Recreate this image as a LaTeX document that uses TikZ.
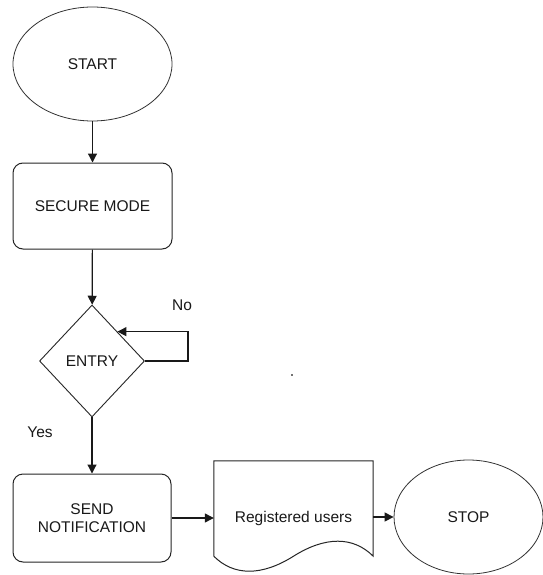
\documentclass[tikz,border=0pt]{standalone}
\usepackage{fontspec}
\setmainfont{Liberation Sans}
\usetikzlibrary{shapes.geometric,arrows.meta,calc}
\begin{document}
\begin{tikzpicture}[x=1pt,y=-1pt,
  every node/.style={font=\fontsize{15.5}{17.5}\selectfont, text=black!90},
  term/.style={ellipse, draw=black!80, line width=0.8pt, inner sep=0pt},
  proc/.style={rectangle, rounded corners=10pt, draw=black!85, line width=1pt, inner sep=0pt, align=center},
  decide/.style={diamond, draw=black!85, line width=0.9pt, inner sep=0pt, aspect=0.94},
  conn/.style={draw=black!90, line width=1.2pt, -{Triangle[length=9pt,width=9pt]}},
  lbl/.style={inner sep=0pt}
]
\useasboundingbox (0,0) rectangle (542,575);
\fill[white] (0,0) rectangle (542,575);

\node[term, minimum width=159pt, minimum height=114pt] (start) at (92.5,64) {START};
\node[proc, minimum width=159pt, minimum height=86pt] (secure) at (92.5,206) {SECURE MODE};
\node[decide, minimum width=105pt, minimum height=112pt] (entry) at (92,361) {ENTRY};
\node[proc, minimum width=158pt, minimum height=88pt] (send) at (92,518) {SEND\\NOTIFICATION};
\node[rectangle, draw=none, minimum width=159pt, minimum height=95pt, inner sep=0pt] (doc) at (293.5,508.5) {};
\node[lbl] (doctext) at (293.5,518) {Registered users};
\node[term, minimum width=149pt, minimum height=114pt] (stop) at (468.5,517) {STOP};

% document shape
\draw[draw=black!85, line width=1pt]
  (doc.south west) -- (doc.north west) -- (doc.north east) -- (doc.south east)
  .. controls ($(doc.south east)+(-20,-20)$) and ($(doc.south east)+(-48,-20)$) .. (doc.south)
  .. controls ($(doc.south west)+(48,20)$) and ($(doc.south west)+(20,20)$) .. (doc.south west);

\node[lbl] (no) at (182,305) {No};
\node[lbl] (yes) at (40,432) {Yes};

\coordinate (loopin) at ($(entry.north)!0.48!(entry.east)$);
\coordinate (loopcorner) at (188,361);

\draw[conn] (start) -- (secure);
\draw[conn] (secure) -- (entry);
\draw[conn] (entry.east) -- (loopcorner) |- (loopin);
\draw[conn] (entry) -- (send);
\draw[conn] (send.east) -- (send.east -| doc.west);
\draw[conn] (doc.east |- stop.west) -- (stop.west);

\fill[black!55] (291.3,374.3) rectangle (292.7,375.7);
\end{tikzpicture}
\end{document}
